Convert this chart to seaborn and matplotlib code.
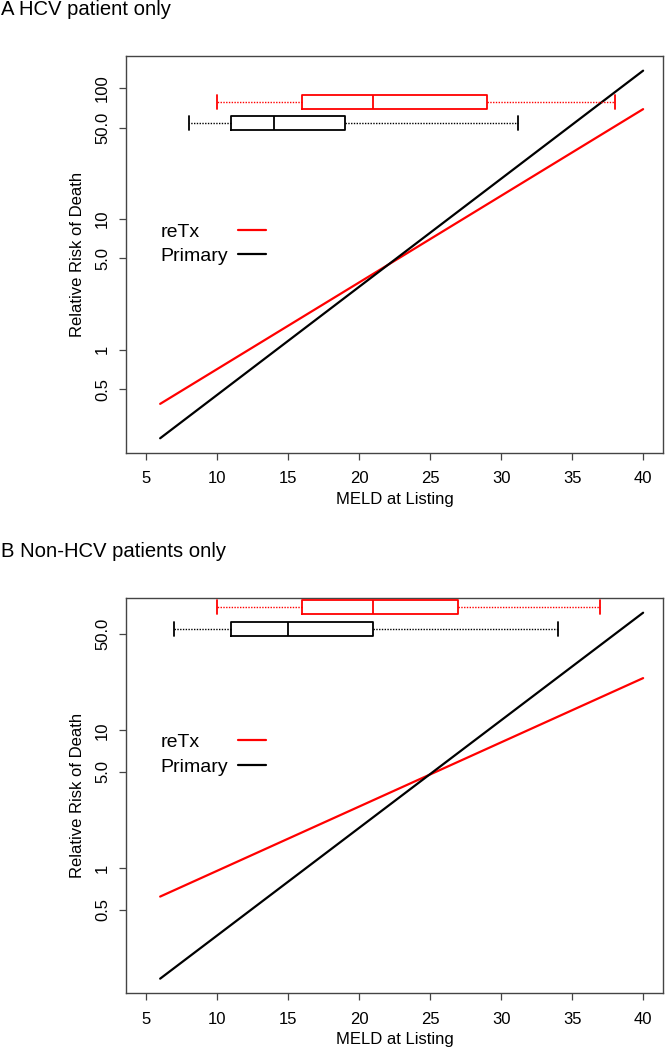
import numpy as np
import pandas as pd
import matplotlib
matplotlib.use('Agg')
import matplotlib.pyplot as plt
from matplotlib.lines import Line2D
import seaborn as sns

# ── Data ──────────────────────────────────────────────
meld_ends = [6, 40]
groups = ['reTx', 'Primary']

# panel A: HCV patients
hcv_retx = [0.385, 69.3]
hcv_primary = [0.21, 136.5]
hcv_box_retx = [10, 16, 21, 29, 38]          # min, q1, median, q3, max
hcv_box_primary = [8, 11, 14, 19, 31.2]

# panel B: non-HCV patients
non_retx = [0.623, 24.0]
non_primary = [0.158, 71.6]
non_box_retx = [10, 16, 21, 27, 37]
non_box_primary = [7, 11, 15, 21, 34]

x_ticks = [5, 10, 15, 20, 25, 30, 35, 40]
y_ticks = [0.5, 1, 5, 10, 50, 100]
y_labels = ['0.5', '1', '5.0', '10', '50.0', '100']

# ── Style ─────────────────────────────────────────────
colors = {'reTx': 'red', 'Primary': 'black'}
box_level = {'reTx': 79, 'Primary': 54.5}     # where the boxes sit on the risk axis
frame_col = '#444444'

sns.set_style('ticks')
plt.rcParams['font.family'] = ['Liberation Sans', 'DejaVu Sans']
plt.rcParams['text.color'] = 'black'
plt.rcParams['axes.labelcolor'] = 'black'
plt.rcParams['xtick.color'] = frame_col
plt.rcParams['ytick.color'] = frame_col
plt.rcParams['xtick.labelcolor'] = 'black'
plt.rcParams['ytick.labelcolor'] = 'black'

fig = plt.figure(figsize=(6.67, 10.5), dpi=100)
ax_a = fig.add_axes([0.189, 0.5686, 0.805, 0.3781])
ax_b = fig.add_axes([0.189, 0.0540, 0.805, 0.3764])


def draw_panel(ax, retx, primary, box_retx, box_primary, leg_y):
    lines = pd.DataFrame({'meld': meld_ends * 2,
                          'risk': retx + primary,
                          'group': ['reTx'] * 2 + ['Primary'] * 2})
    sns.lineplot(data=lines, x='meld', y='risk', hue='group', palette=colors,
                 linewidth=1.6, legend=False, ax=ax)
    ax.set_yscale('log')
    ax.set_yticks(y_ticks, y_labels, rotation=90, va='center')
    ax.minorticks_off()
    ax.set_xticks(x_ticks)
    # R style: 4% padding around the data range (log scale on y)
    lo, hi = np.log10(min(retx + primary)), np.log10(max(retx + primary))
    pad = 0.04 * (hi - lo)
    ax.set_ylim(10 ** (lo - pad), 10 ** (hi + pad))
    ax.set_xlim(5 - 0.04 * 35, 40 + 0.04 * 35)

    # boxplots of MELD distribution on a twin axis in log10 units
    bx = ax.twinx()
    box = pd.DataFrame({'meld': box_retx + box_primary,
                        'group': ['reTx'] * 5 + ['Primary'] * 5})
    box['pos'] = np.log10(box['group'].map(box_level))
    native = abs(np.log10(box_level['reTx']) - np.log10(box_level['Primary']))
    sns.boxplot(data=box, x='meld', y='pos', hue='group', palette=colors,
                orient='y', native_scale=True, fill=False, width=0.65,
                whis=(0, 100), linewidth=1.3, capwidths=0.65 * native,
                whiskerprops={'linestyle': (0, (1, 1)), 'linewidth': 1.0},
                legend=False, ax=bx)
    bx.set_ylim(np.log10(ax.get_ylim()))
    bx.set_yticks([])
    bx.set_ylabel('')
    for s in bx.spines.values():
        s.set_visible(False)
    ax.set_xlim(5 - 0.04 * 35, 40 + 0.04 * 35)

    # legend: text left, key line to the right
    blank = [Line2D([], [], linestyle='none') for _ in groups]
    keys = [Line2D([], [], color=colors[g], lw=1.6) for g in groups]
    ax.legend(blank + keys, groups + ['', ''], ncol=2, frameon=False,
              loc='center left', bbox_to_anchor=(-0.003, leg_y),
              borderaxespad=0, borderpad=0, fontsize=14,
              handlelength=1.46, handletextpad=0.4, columnspacing=0.5,
              labelspacing=0.34)

    ax.set_xlabel('MELD at Listing', fontsize=12, labelpad=4)
    ax.set_ylabel('Relative Risk of Death', fontsize=12, labelpad=7)
    ax.tick_params(axis='both', direction='out', length=5.3, width=0.9,
                   labelsize=12)
    ax.tick_params(axis='x', pad=8)
    ax.tick_params(axis='y', pad=6.3)
    for s in ax.spines.values():
        s.set_visible(True)
        s.set_color(frame_col)
        s.set_linewidth(1.0)


draw_panel(ax_a, hcv_retx, hcv_primary, hcv_box_retx, hcv_box_primary, 0.526)
draw_panel(ax_b, non_retx, non_primary, non_box_retx, non_box_primary, 0.604)

fig.text(0.002, 1.0, 'A HCV patient only', fontsize=14.6, va='top')
fig.text(0.002, 1 - 542 / 1050, 'B Non-HCV patients only', fontsize=14.6, va='top')

fig.savefig('out.png', dpi=100)
